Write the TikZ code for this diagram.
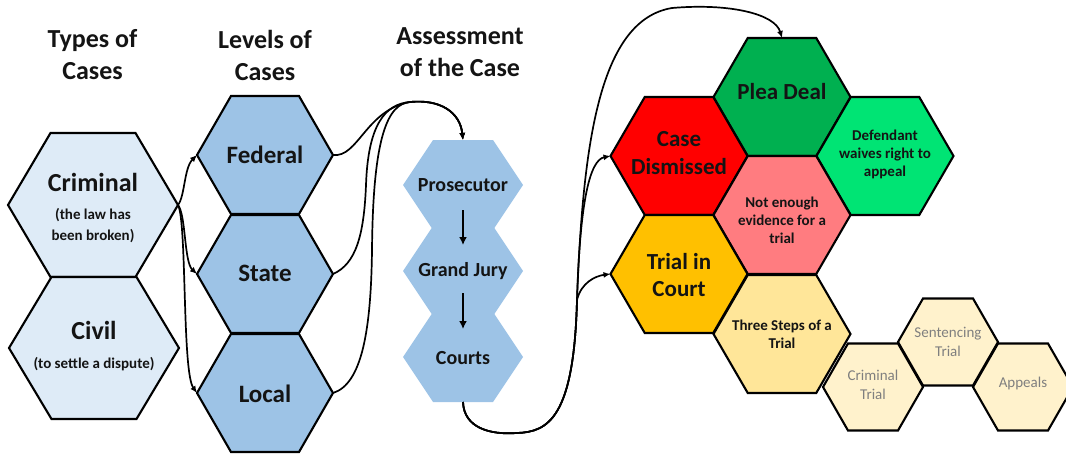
\documentclass[tikz,border=0pt]{standalone}
\usepackage{fontspec}
\setmainfont{Carlito}
\usetikzlibrary{arrows.meta}
\definecolor{paleblue}{HTML}{DEEBF7}
\definecolor{midblue}{HTML}{9DC3E6}
\definecolor{redhex}{HTML}{FF0000}
\definecolor{greenhex}{HTML}{00B050}
\definecolor{brightgreen}{HTML}{00E474}
\definecolor{pinkhex}{HTML}{FF7C80}
\definecolor{orangehex}{HTML}{FFC000}
\definecolor{yellowhex}{HTML}{FFE699}
\definecolor{paleyellow}{HTML}{FFF2CC}
\definecolor{inkcol}{HTML}{141414}
\definecolor{graytext}{HTML}{7F7F7F}
\newcommand{\hexa}[9]{%
  \path[#6] (#2-#4,#3) -- (#2-#4/2,#3-#5) -- (#2+#4/2,#3-#5) -- (#2+#4,#3)
     -- (#2+#4/2,#3+#5) -- (#2-#4/2,#3+#5) -- cycle;
  \coordinate (#1-w) at (#2-#4,#3);
  \coordinate (#1-e) at (#2+#4,#3);
  \coordinate (#1-n) at (#2,#3-#5);
  \coordinate (#1-s) at (#2,#3+#5);
  \node[lbl,#8] (#1) at (#2,#7) {#9};
}
\tikzset{
  hexline/.style={draw=black, line width=2.1pt, line join=miter},
  lbl/.style={align=center, inner sep=0pt, text=inkcol},
  title/.style={align=center, inner sep=0pt, text=inkcol,
     font=\fontsize{26}{32}\selectfont\bfseries},
  conn/.style={line width=1.7pt, -{Latex[length=7pt,width=6pt]}},
  stepar/.style={line width=1.9pt, -{Latex[length=8pt,width=8pt]}},
  fbig/.style={font=\fontsize{25}{30}\selectfont\bfseries},
  fmid/.style={font=\fontsize{23}{27.5}\selectfont\bfseries},
  fstep/.style={font=\fontsize{20}{24}\selectfont\bfseries},
  fsmall/.style={font=\fontsize{15}{18}\selectfont\bfseries},
  fsub/.style={font=\fontsize{15}{21}\selectfont\bfseries},
  fgray/.style={font=\fontsize{15}{18.5}\selectfont, text=graytext},
}
\begin{document}
\begin{tikzpicture}[x=1pt,y=-1pt]
\useasboundingbox (0,0) rectangle (1066,455);
% titles
\node[title] (t1) at (92.5,55) {Types of\\Cases};
\node[title] (t2) at (265,55) {Levels of\\Cases};
\node[title] (t3) at (460,52) {Assessment\\of the Case};
% left column
\hexa{crim}{93}{205}{85}{72}{hexline,fill=paleblue}{208}{fsub}{{\fontsize{26}{21}\selectfont Criminal}\\[7pt](the law has\\been broken)}
\hexa{civ}{94}{348}{85}{71}{hexline,fill=paleblue}{346}{fsub}{{\fontsize{26}{21}\selectfont Civil}\\[8pt](to settle a dispute)}
% levels
\hexa{fed}{265}{155}{68}{59}{hexline,fill=midblue}{155}{fbig}{Federal}
\hexa{state}{265}{274}{68}{59}{hexline,fill=midblue}{273}{fbig}{State}
\hexa{local}{265}{393}{68}{59}{hexline,fill=midblue}{394}{fbig}{Local}
% assessment
\hexa{pros}{463}{185}{60}{45}{fill=midblue}{185}{fstep}{Prosecutor}
\hexa{gj}{463}{271}{60}{45}{fill=midblue}{271}{fstep}{Grand Jury}
\hexa{courts}{463}{357}{60}{45}{fill=midblue}{358}{fstep}{Courts}
\draw[stepar,shorten <=25pt,shorten >=26pt] (pros.center) -- (gj.center);
\draw[stepar,shorten <=22pt,shorten >=29pt] (gj.center) -- (courts.center);
% outcome cluster
\hexa{plea}{782}{97}{68.5}{59}{hexline,fill=greenhex}{92}{fmid}{Plea Deal}
\hexa{case}{679}{156}{68.5}{59}{hexline,fill=redhex}{153}{fmid}{Case\\Dismissed}
\hexa{waive}{885}{156}{68.5}{59}{hexline,fill=brightgreen}{154}{fsmall}{Defendant\\waives right to\\appeal}
\hexa{noev}{782}{215}{68.5}{59}{hexline,fill=pinkhex}{220}{fsmall}{Not enough\\evidence for a\\trial}
\hexa{trial}{679}{274}{68.5}{59}{hexline,fill=orangehex}{275}{fmid}{Trial in\\Court}
\hexa{three}{782}{334}{68.5}{59}{hexline,fill=yellowhex}{334}{fsmall}{Three Steps of a\\Trial}
\hexa{crt}{873}{387}{50}{43.5}{hexline,fill=paleyellow}{385}{fgray}{Criminal\\Trial}
\hexa{sent}{948}{342}{50}{43.5}{hexline,fill=paleyellow}{342}{fgray}{Sentencing\\Trial}
\hexa{app}{1023}{387}{50}{43.5}{hexline,fill=paleyellow}{383}{fgray}{Appeals}
% connectors: types -> levels
\draw[conn] (crim-e) .. controls (185,196) and (184,168) .. (fed-w);
\draw[conn] (crim-e) .. controls (186,215) and (184,262) .. (state-w);
\draw[conn] (crim-e) .. controls (187,222) and (182,372) .. (local-w);
% levels -> prosecutor
\coordinate (topA) at (410,102);
\coordinate (riseS) at (366,185);
\coordinate (riseL) at (372,250);
\draw[conn] (fed-e) .. controls (358,158) and (366,110) .. (topA)
   .. controls (440,99) and (460,112) .. (pros-n);
\draw[conn] (state-e) .. controls (356,264) and (364,235) .. (riseS)
   .. controls (368,125) and (385,104) .. (topA)
   .. controls (440,99) and (460,112) .. (pros-n);
\draw[conn] (local-e) .. controls (362,384) and (371,330) .. (riseL)
   .. controls (373,135) and (388,104) .. (topA)
   .. controls (440,99) and (460,112) .. (pros-n);
% courts -> outcomes
\coordinate (lowB) at (517,433);
\coordinate (branch) at (577,300);
\coordinate (topP) at (672,8);
\draw[conn] (courts-s) .. controls (464,428) and (490,435) .. (lowB)
   .. controls (548,432) and (574,418) .. (branch)
   .. controls (581,283) and (595,276) .. (trial-w);
\draw[conn] (courts-s) .. controls (464,428) and (490,435) .. (lowB)
   .. controls (548,432) and (574,418) .. (branch)
   .. controls (580,200) and (590,160) .. (case-w);
\draw[conn] (courts-s) .. controls (464,428) and (490,435) .. (lowB)
   .. controls (548,432) and (574,418) .. (branch)
   .. controls (583,140) and (600,20) .. (topP)
   .. controls (730,3) and (775,14) .. (plea-n);
\end{tikzpicture}
\end{document}
